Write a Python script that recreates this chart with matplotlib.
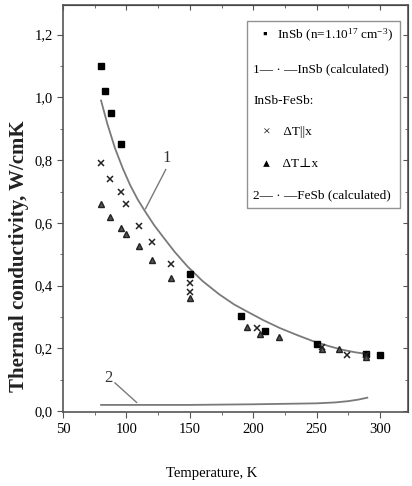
import numpy as np
import matplotlib.pyplot as plt
from matplotlib.lines import Line2D
from matplotlib.ticker import MultipleLocator, FuncFormatter

plt.rcParams['font.family'] = ['Liberation Serif', 'DejaVu Serif', 'DejaVu Sans']
plt.rcParams['mathtext.fontset'] = 'custom'
plt.rcParams['mathtext.rm'] = 'Liberation Serif'
plt.rcParams['mathtext.it'] = 'Liberation Serif:italic'

# InSb measured (filled squares)
insb_T = [80, 83, 88, 96, 150, 190, 209, 250, 289, 300]
insb_k = [1.10, 1.02, 0.95, 0.85, 0.436, 0.303, 0.256, 0.213, 0.182, 0.180]

# InSb-FeSb, dT || x (crosses)
par_T = [80, 87, 96, 100, 110, 120, 135, 150, 150, 203, 254, 274, 289]
par_k = [0.79, 0.74, 0.70, 0.66, 0.59, 0.54, 0.47, 0.41, 0.38, 0.265, 0.203, 0.178, 0.178]

# InSb-FeSb, dT _|_ x (triangles)
perp_T = [80, 87, 96, 100, 110, 120, 135, 150, 195, 205, 220, 254, 268, 289]
perp_k = [0.66, 0.62, 0.585, 0.565, 0.525, 0.482, 0.423, 0.362, 0.268, 0.245, 0.235, 0.198, 0.197, 0.172]

# calculated curves
calc1_T = [80, 85, 91, 97, 103, 109, 115, 122, 129, 138, 148, 160, 173, 185,
           195, 208, 221, 235, 248, 260, 270, 280, 290]
calc1_k = [0.99, 0.915, 0.838, 0.775, 0.72, 0.674, 0.635, 0.592, 0.555, 0.508, 0.462,
           0.415, 0.373, 0.34, 0.318, 0.29, 0.265, 0.242, 0.222, 0.207, 0.196, 0.188, 0.182]
calc2_T = [80, 150, 200, 250, 265, 275, 283, 290]
calc2_k = [0.02, 0.02, 0.022, 0.025, 0.028, 0.032, 0.037, 0.043]

fig = plt.figure(figsize=(4.12, 4.86), dpi=100)
ax = fig.add_axes([0.153, 0.152, 0.837, 0.838])

gray = '#7a7a7a'
ax.plot(calc1_T, calc1_k, color=gray, lw=1.3)
ax.plot(calc2_T, calc2_k, color=gray, lw=1.3)
ax.plot(insb_T, insb_k, 's', color='black', ms=4, ls='none')
ax.plot(par_T, par_k, 'x', color='#222222', ms=5, mew=1.1, ls='none')
ax.plot(perp_T, perp_k, '^', color='#222222', mfc='#555555', ms=4.5, ls='none')

# curve labels
ax.text(132, 0.78, '1', fontsize=12, ha='center', va='bottom', color='#333333')
ax.plot([131, 115], [0.77, 0.645], color=gray, lw=1)
ax.text(85.5, 0.105, '2', fontsize=12, ha='center', va='center', color='#333333')
ax.plot([91, 108], [0.09, 0.028], color=gray, lw=1)

ax.set_xlim(50, 322)
ax.set_ylim(-0.003, 1.295)
ax.xaxis.set_major_locator(MultipleLocator(50))
ax.xaxis.set_minor_locator(MultipleLocator(25))
ax.yaxis.set_major_locator(MultipleLocator(0.2))
ax.yaxis.set_minor_locator(MultipleLocator(0.1))
ax.yaxis.set_major_formatter(FuncFormatter(lambda v, p: f'{v:.1f}'.replace('.', ',')))
ax.tick_params(which='both', direction='out', labelsize=10.5, color='#555555')
ax.tick_params(which='major', length=4)
ax.tick_params(which='minor', length=2.5)
for s in ax.spines.values():
    s.set_color('#555555')
    s.set_linewidth(1.2)

# mirror ticks on top/right
axt = ax.secondary_xaxis('top')
axt.xaxis.set_major_locator(MultipleLocator(50))
axt.xaxis.set_minor_locator(MultipleLocator(25))
axt.tick_params(which='both', direction='in', labeltop=False, color='#555555')
axr = ax.secondary_yaxis('right')
axr.yaxis.set_major_locator(MultipleLocator(0.2))
axr.yaxis.set_minor_locator(MultipleLocator(0.1))
axr.tick_params(which='both', direction='in', labelright=False, color='#555555')

ax.set_xlabel('Temperature, K', fontsize=10.5)
ax.xaxis.set_label_coords(0.43, -0.135)
ax.set_ylabel('Thermal conductivity, W/cmK', fontsize=15, fontweight='bold', color='#222222')
ax.yaxis.set_label_coords(-0.1, 0.383)

blank = Line2D([], [], ls='none')
labels = [
    '   \u25aa   InSb (n=1.10$^{17}$ cm$^{-3}$)',
    '1\u2014 \u00b7 \u2014InSb (calculated)',
    'InSb-FeSb:',
    '   \u00d7    \u0394T||x',
    '   \u25b4    \u0394T\u22a5x',
    '2\u2014 \u00b7 \u2014FeSb (calculated)',
]
leg = ax.legend([blank] * len(labels), labels, loc='upper right',
                bbox_to_anchor=(0.977, 0.961), borderaxespad=0,
                fontsize=9.5, frameon=True, fancybox=False, edgecolor='#777777',
                handlelength=0, handletextpad=0, labelspacing=1.45,
                borderpad=0.5)
leg.get_frame().set_linewidth(1.0)

fig.savefig('out.png', dpi=100)
